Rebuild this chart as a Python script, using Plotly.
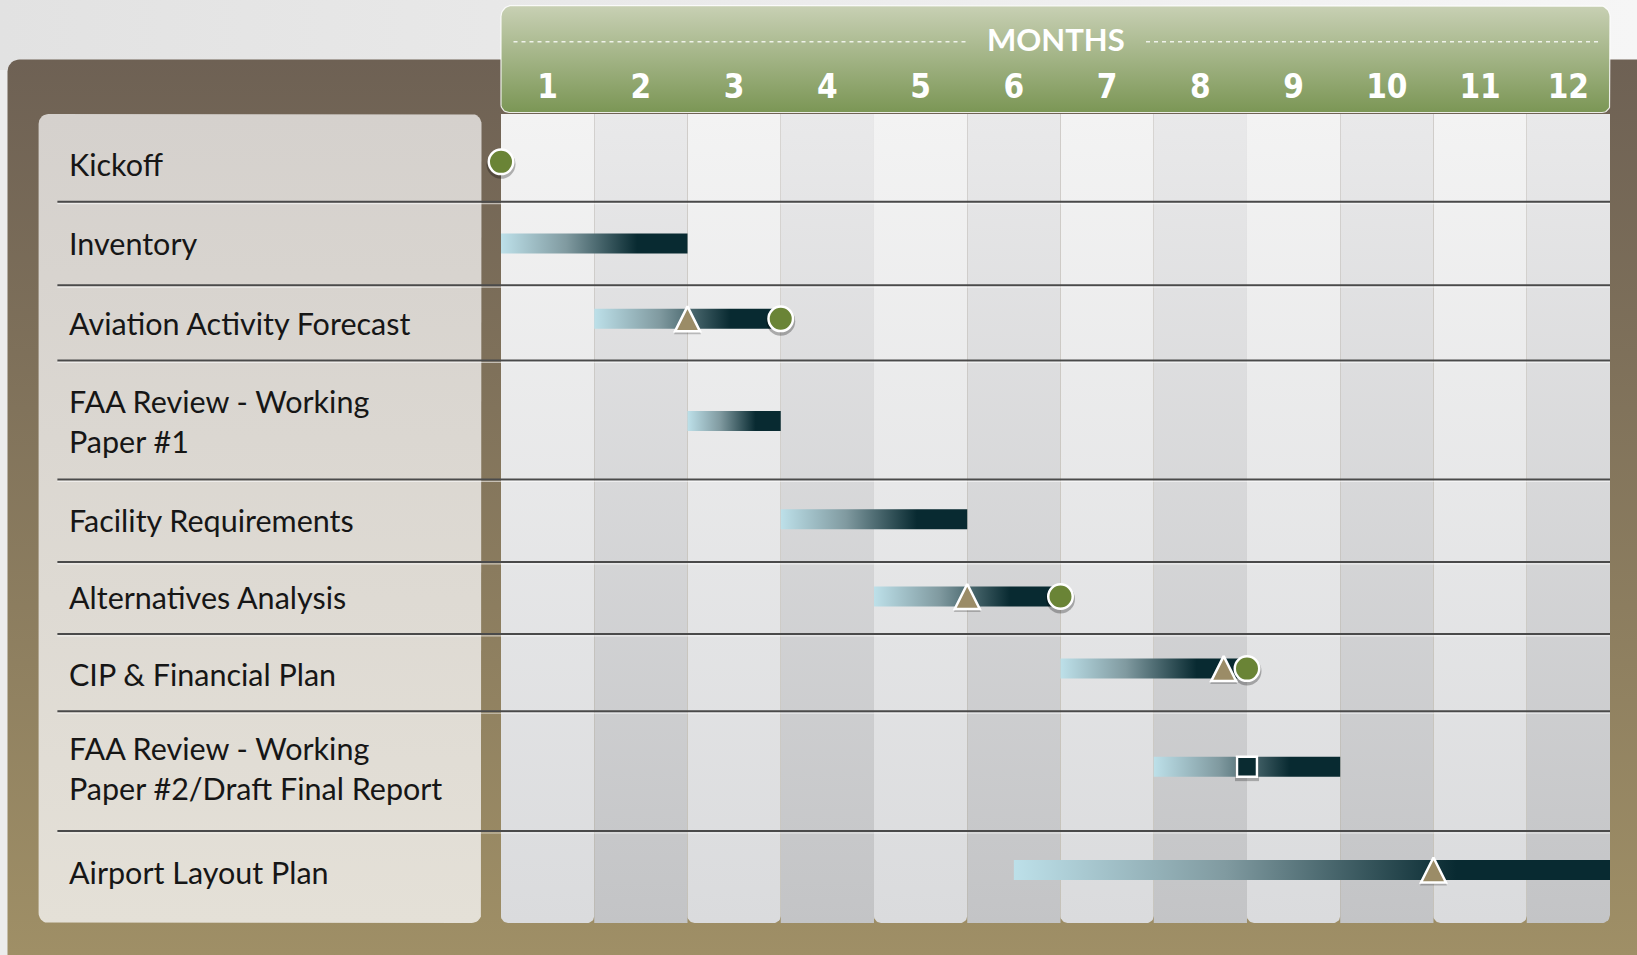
import numpy as np
import plotly.graph_objects as go

# ---------------- data ----------------
months = ["1", "2", "3", "4", "5", "6", "7", "8", "9", "10", "11", "12"]
tasks = [
    "Kickoff",
    "Inventory",
    "Aviation Activity Forecast",
    "FAA Review - Working<br>Paper #1",
    "Facility Requirements",
    "Alternatives Analysis",
    "CIP & Financial Plan",
    "FAA Review - Working<br>Paper #2/Draft Final Report",
    "Airport Layout Plan",
]
# activity bars (month units: column k spans k-1 .. k)
bar_task = [1, 2, 3, 4, 5, 6, 7, 8]
bar_start = [0, 1, 2, 3, 4, 6, 7, 5.5]
bar_end = [2, 3, 3, 5, 6, 8, 9, 12]
# milestones
circle_task = [0, 2, 5, 6]
circle_month = [0, 3, 6, 8]
triangle_task = [2, 5, 6, 8]
triangle_month = [2, 5, 7.75, 10]
square_task = [7]
square_month = [8]

# ---------------- layout constants (px) ----------------
W, H = 1637, 955
CH_X0, CH_X1 = 501, 1610
CH_Y0, CH_Y1 = 114, 923
ROW_H = [87.7, 83.5, 75.2, 119, 82.5, 72, 77.3, 119.7, 92]
ROW_SHIFT = [4, 0, -4, 1, -1.5, -1.5, -4, -4.5, -7]   # item offset from row middle
LABEL_SHIFT = [6, 0, 0, 1, -1, -1, 1, -3, -5]
TOTAL = float(sum(ROW_H))
XMAX = 11.893
PPM = (CH_X1 - CH_X0) / XMAX  # px per month

bounds = np.concatenate([[0], np.cumsum(ROW_H)])
centers = (bounds[:-1] + bounds[1:]) / 2
item_y = centers + np.array(ROW_SHIFT)
label_y = centers + np.array(LABEL_SHIFT)

BAR_HALF = 10
BAR_SCALE = [[0, "#bde0e9"], [0.35, "#809aa0"], [0.73, "#082a31"], [1, "#082a31"]]


def rounded_rect(x0, y0, x1, y1, radii, sx=1.0, n=10):
    tl, tr, br, bl = radii
    xs, ys = [], []

    def arc(cx, cy, r, a0, a1):
        if r <= 0:
            xs.append(cx)
            ys.append(cy)
            return
        for a in np.linspace(np.radians(a0), np.radians(a1), n):
            xs.append(cx + r / sx * np.cos(a))
            ys.append(cy + r * np.sin(a))

    arc(x0 + tl / sx, y0 + tl, tl, 180, 270)
    arc(x1 - tr / sx, y0 + tr, tr, 270, 360)
    arc(x1 - br / sx, y1 - br, br, 0, 90)
    arc(x0 + bl / sx, y1 - bl, bl, 90, 180)
    xs.append(xs[0])
    ys.append(ys[0])
    return xs, ys


fig = go.Figure()


def deco(xs, ys, gtype, start, stop, c0, c1, line=None, axis=("x", "y")):
    fig.add_trace(go.Scatter(
        x=xs, y=ys, mode="lines", fill="toself",
        line=line or dict(width=0, color="rgba(0,0,0,0)"),
        fillgradient=dict(type=gtype, start=start, stop=stop,
                          colorscale=[[0, c0], [1, c1]]),
        hoverinfo="skip", showlegend=False,
        xaxis=axis[0], yaxis=axis[1],
    ))


# page background (top strip)
xs, ys = rounded_rect(0, 0, W, 70, (0, 0, 0, 0))
deco(xs, ys, "horizontal", 0, W, "#e2e2e2", "#f6f6f6")
# brown frame
xs, ys = rounded_rect(7.5, 59.5, W + 20, H + 20, (12, 0, 0, 0))
deco(xs, ys, "vertical", 59.5, H, "#6e6154", "#9f8f66")
# label panel
xs, ys = rounded_rect(38.6, CH_Y0, 481.5, CH_Y1, (10, 10, 10, 10))
deco(xs, ys, "vertical", CH_Y0, CH_Y1, "#d5d1cd", "#e4e0d7")
# month header
xs, ys = rounded_rect(CH_X0, 5.5, CH_X1, 112.5, (11, 11, 8, 8))
deco(xs, ys, "vertical", 5.5, 112.5, "#c8d0b4", "#7b9655",
     line=dict(width=1.2, color="rgba(255,255,255,0.85)"))

# month columns (in chart coordinates)
for i in range(len(months)):
    x0, x1 = i, min(i + 1, XMAX)
    if i % 2 == 0:
        r = (0, 0, 7, 7)
        c0, c1 = "#f3f3f3", "#dadbdd"
    else:
        r = (0, 0, 8 if i == len(months) - 1 else 0, 0)
        c0, c1 = "#e9e9ea", "#c3c4c6"
    xs, ys = rounded_rect(x0, 0, x1, TOTAL, r, sx=PPM)
    deco(xs, ys, "vertical", 0, TOTAL, c0, c1, axis=("x2", "y2"))

# activity bars with gradient
for t, s, e in zip(bar_task, bar_start, bar_end):
    c = item_y[t]
    fig.add_trace(go.Scatter(
        x=[s, e, e, s, s], y=[c - BAR_HALF, c - BAR_HALF, c + BAR_HALF, c + BAR_HALF, c - BAR_HALF],
        mode="lines", fill="toself", line=dict(width=0, color="rgba(0,0,0,0)"),
        fillgradient=dict(type="horizontal", start=s, stop=e, colorscale=BAR_SCALE),
        hoverinfo="skip", showlegend=False, xaxis="x2", yaxis="y2",
    ))


def ms(x, yv, **kw):
    fig.add_trace(go.Scatter(x=x, y=yv, mode="markers", cliponaxis=False,
                             hoverinfo="skip", showlegend=False,
                             xaxis="x2", yaxis="y2", **kw))


tri_y = [item_y[t] for t in triangle_task]
cir_y = [item_y[t] for t in circle_task]
sq_y = [item_y[t] for t in square_task]

# shadows
ms(circle_month, [y + 2.5 for y in cir_y],
   marker=dict(symbol="circle", size=29, color="rgba(0,0,0,0.28)", line=dict(width=0)))
ms(square_month, [y + 2.5 for y in sq_y],
   marker=dict(symbol="square", size=24, color="rgba(0,0,0,0.25)", line=dict(width=0)))
ms(triangle_month, [y + 2 for y in tri_y],
   marker=dict(symbol="arrow-down", angle=180, standoff=13.5, size=27,
               color="rgba(0,0,0,0.22)", line=dict(width=0)))

# milestones
ms(triangle_month, tri_y,
   marker=dict(symbol="arrow-down", angle=180, standoff=12.5, size=25,
               color="#9b8c67", line=dict(width=2.5, color="white")))
ms(square_month, sq_y,
   marker=dict(symbol="square", size=20, color="#0a2b31", line=dict(width=2.5, color="white")))
ms(circle_month, cir_y,
   marker=dict(symbol="circle", size=24.5, color="#6a8436", line=dict(width=2.5, color="white")))

# task labels
annotations = []
for i, t in enumerate(tasks):
    annotations.append(dict(
        x=66.7 / W, xref="paper", y=label_y[i], yref="y2", text=t,
        showarrow=False, xanchor="left", yanchor="middle", align="left",
        font=dict(family="Lato, sans-serif", size=30.5, color="#161616"),
    ))
annotations.append(dict(
    x=(CH_X0 + CH_X1) / 2 / W, xref="paper", y=1 - 38.6 / H, yref="paper",
    text="MONTHS", showarrow=False, xanchor="center", yanchor="middle",
    font=dict(family="Lato, sans-serif", size=31, color="white", weight="bold"),
))

shapes = []
for yb in bounds[1:-1]:
    shapes.append(dict(type="line", xref="paper", yref="y2", x0=57.4 / W, x1=CH_X1 / W,
                       y0=yb, y1=yb, line=dict(color="#4a4a4a", width=2), layer="above"))
    shapes.append(dict(type="line", xref="paper", yref="y2", x0=57.4 / W, x1=CH_X1 / W,
                       y0=yb + 2, y1=yb + 2, line=dict(color="rgba(255,255,255,0.55)", width=1.2),
                       layer="above"))
for xa, xb in [(513.5, 966), (1146, 1598)]:
    shapes.append(dict(type="line", xref="paper", yref="paper", x0=xa / W, x1=xb / W,
                       y0=1 - 41.8 / H, y1=1 - 41.8 / H,
                       line=dict(color="rgba(255,255,255,0.8)", width=1.5, dash="4px,4px"),
                       layer="above"))

tickvals = [(i + min(i + 1, XMAX)) / 2 for i in range(len(months))]

fig.update_layout(
    width=W, height=H,
    margin=dict(l=0, r=0, t=0, b=0),
    paper_bgcolor="#ececec", plot_bgcolor="rgba(0,0,0,0)",
    showlegend=False, hovermode=False,
    xaxis=dict(domain=[0, 1], range=[0, W], visible=False, fixedrange=True),
    yaxis=dict(domain=[0, 1], range=[H, 0], visible=False, fixedrange=True),
    xaxis2=dict(domain=[CH_X0 / W, CH_X1 / W], range=[0, XMAX], anchor="y2", side="top",
                tickmode="array", tickvals=tickvals, ticktext=months,
                tickfont=dict(family="DejaVu Sans Condensed, Lato, sans-serif", size=33,
                              color="white", weight="bold"),
                ticks="outside", ticklen=2, tickcolor="rgba(0,0,0,0)",
                showgrid=False, zeroline=False, showline=False, fixedrange=True),
    yaxis2=dict(domain=[1 - CH_Y1 / H, 1 - CH_Y0 / H], range=[TOTAL, 0], anchor="x2",
                visible=False, fixedrange=True),
    annotations=annotations,
    shapes=shapes,
)

fig.write_html("out.html", post_script="document.body.style.margin='0';",
               config={"displayModeBar": False})
